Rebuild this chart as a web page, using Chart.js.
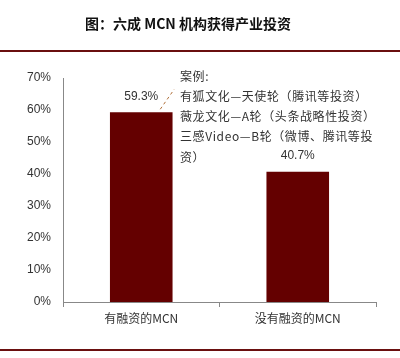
<!DOCTYPE html>
<html><head><meta charset="utf-8">
<script src="https://cdn.jsdelivr.net/npm/chart.js@4/dist/chart.umd.min.js"></script>
<style>html,body{margin:0;padding:0;background:#fff;}#wrap{position:relative;width:400px;height:358px;}</style>
</head><body><div id="wrap"><canvas id="c" width="400" height="358"></canvas></div>
<script>
const categories = ['有融资的MCN', '没有融资的MCN'];
const shares = [59.3, 40.7];
const yTicks = [0, 10, 20, 30, 40, 50, 60, 70];
const titleText = '图：六成 MCN 机构获得产业投资';
const noteLines = ['案例:', '有狐文化—天使轮（腾讯等投资）', '薇龙文化—A轮（头条战略性投资）', '三感Video—B轮（微博、腾讯等投', '资）'];

const FONT = '"Noto Sans CJK SC", "Liberation Sans", sans-serif';

const decor = {
  id: 'decor',
  beforeDraw(chart) {
    const ctx = chart.ctx;
    ctx.save();
    ctx.fillStyle = '#fff';
    ctx.fillRect(0, 0, chart.width, chart.height);
    ctx.fillStyle = '#111';
    ctx.font = 'bold 14px ' + FONT;
    ctx.textAlign = 'center';
    ctx.textBaseline = 'middle';
    ctx.fillText(titleText, 188, 24);
    ctx.fillStyle = '#6a0f0f';
    ctx.fillRect(0, 50, 400, 2);
    ctx.fillRect(0, 349, 400, 2);
    ctx.restore();
  },
  afterDatasetsDraw(chart) {
    const ctx = chart.ctx;
    const meta = chart.getDatasetMeta(0);
    ctx.save();
    ctx.fillStyle = '#333';
    ctx.font = '12px "Liberation Sans", sans-serif';
    ctx.textAlign = 'center';
    ctx.textBaseline = 'middle';
    meta.data.forEach((bar, i) => {
      ctx.fillText(shares[i].toFixed(1) + '%', bar.x, bar.y - 16);
    });
    const b0 = meta.data[0];
    ctx.strokeStyle = '#b0703a';
    ctx.lineWidth = 1;
    ctx.setLineDash([3, 3]);
    ctx.beginPath();
    ctx.moveTo(b0.x + 19, b0.y - 3);
    ctx.lineTo(b0.x + 33, b0.y - 23);
    ctx.stroke();
    ctx.setLineDash([]);
    ctx.font = '12px ' + FONT;
    ctx.textAlign = 'left';
    ctx.fillStyle = '#333';
    try { ctx.letterSpacing = '0.6px'; } catch (e) {}
    noteLines.forEach((t, i) => {
      ctx.fillText(t, 180, 76 + i * 20.3);
    });
    ctx.restore();
  }
};

new Chart(document.getElementById('c'), {
  type: 'bar',
  data: {
    labels: categories,
    datasets: [{
      data: shares,
      backgroundColor: '#640000',
      borderWidth: 0,
      barPercentage: 0.8,
      categoryPercentage: 0.5
    }]
  },
  options: {
    responsive: false,
    animation: false,
    events: [],
    layout: { padding: { top: 78, right: 24, left: 0, bottom: 0 } },
    plugins: { legend: { display: false }, tooltip: { enabled: false }, title: { display: false } },
    scales: {
      x: {
        grid: { display: true, drawOnChartArea: false, offset: true, tickLength: 5, color: '#888' },
        border: { display: true, color: '#888', width: 1 },
        ticks: { color: '#333', font: { family: FONT, size: 12 }, padding: 4 },
        afterFit(s) { s.height = 56; }
      },
      y: {
        min: 0, max: 70,
        afterBuildTicks(s) { s.ticks = yTicks.map(v => ({ value: v })); },
        grid: { display: false, drawTicks: false },
        border: { display: true, color: '#888', width: 1 },
        ticks: { color: '#333', font: { family: '"Liberation Sans", sans-serif', size: 12 }, padding: 12, callback: v => v + '%' },
        afterFit(s) { s.width = 63; }
      }
    }
  },
  plugins: [decor]
});
</script></body></html>
